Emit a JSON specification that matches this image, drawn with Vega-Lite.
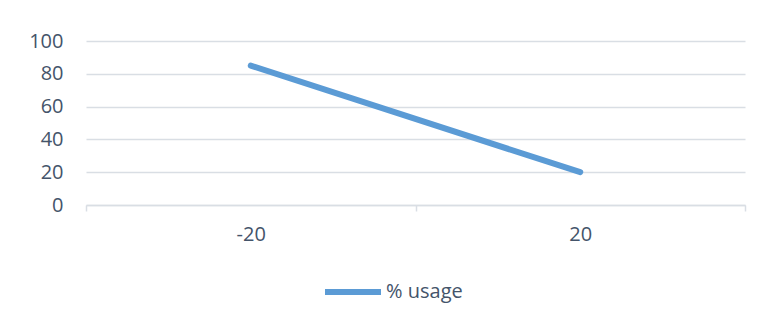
{
  "$schema": "https://vega.github.io/schema/vega-lite/v6.json",
  "width": 659,
  "height": 164,
  "autosize": {"type": "none"},
  "padding": {"left": 86, "top": 41, "right": 16, "bottom": 115},
  "background": "white",
  "data": {
    "values": [
      {"temp": "-20", "usage": 85, "series": "% usage"},
      {"temp": "20", "usage": 20, "series": "% usage"}
    ]
  },
  "mark": {"type": "line", "strokeWidth": 6, "strokeCap": "round", "strokeJoin": "round"},
  "encoding": {
    "x": {
      "field": "temp",
      "type": "ordinal",
      "sort": ["-20", "20"],
      "scale": {"type": "band", "paddingInner": 0, "paddingOuter": 0},
      "axis": {
        "title": null,
        "labelAngle": 0,
        "tickBand": "extent",
        "grid": false,
        "domainColor": "#D9DEE4",
        "domainWidth": 1.5,
        "tickColor": "#D9DEE4",
        "tickWidth": 1.5,
        "tickSize": 6,
        "labelPadding": 13
      }
    },
    "y": {
      "field": "usage",
      "type": "quantitative",
      "scale": {"domain": [0, 100], "nice": false},
      "axis": {
        "title": null,
        "values": [0, 20, 40, 60, 80, 100],
        "domain": false,
        "ticks": false,
        "tickSize": 0,
        "labelPadding": 23,
        "gridColor": "#D9DEE4",
        "gridWidth": 1.5
      }
    },
    "color": {
      "field": "series",
      "type": "nominal",
      "scale": {"range": ["#5B9BD5"]},
      "legend": {
        "title": null,
        "orient": "none",
        "legendX": 236,
        "legendY": 220,
        "symbolType": "stroke",
        "symbolSize": 3136,
        "symbolStrokeWidth": 6,
        "labelOffset": 2
      }
    }
  },
  "config": {
    "view": {"stroke": null},
    "font": "Open Sans",
    "axis": {"labelFont": "Open Sans", "labelFontSize": 20, "labelColor": "#44546A"},
    "legend": {"labelFont": "Open Sans", "labelFontSize": 20, "labelColor": "#44546A"}
  }
}
